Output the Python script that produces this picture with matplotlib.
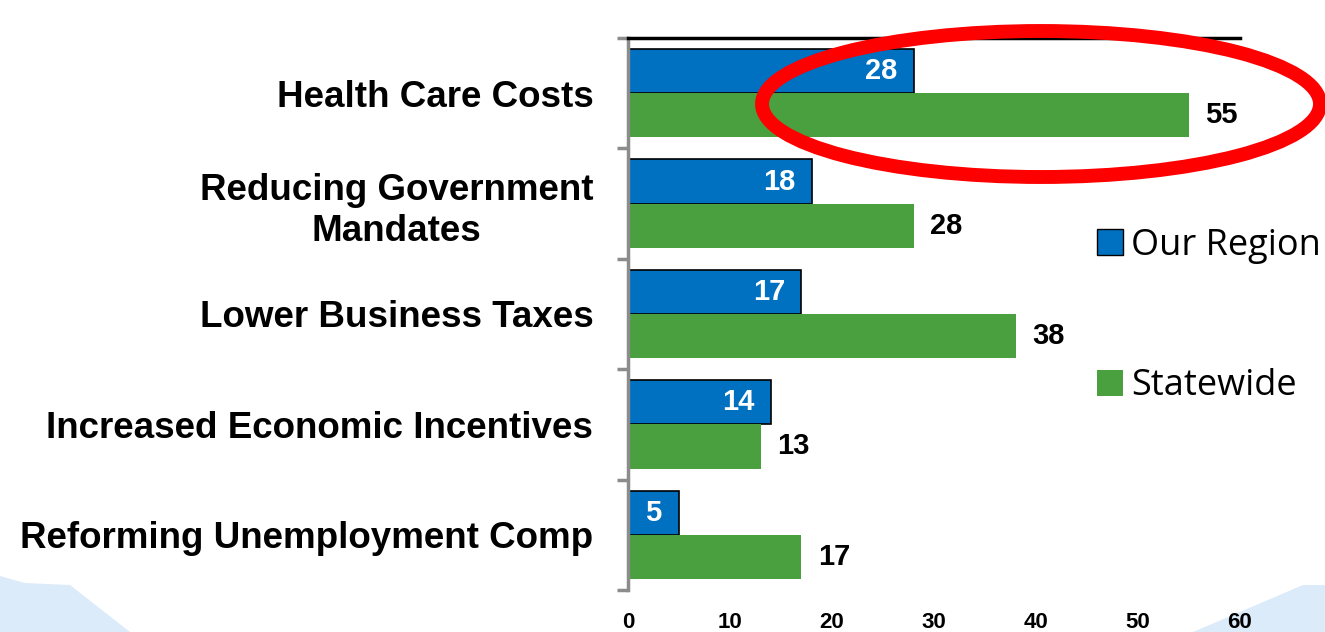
import numpy as np
import matplotlib.pyplot as plt
from matplotlib.patches import Ellipse, Polygon, Patch

# survey data: top legislative priorities
categories = ['Health Care Costs', 'Reducing Government\nMandates', 'Lower Business Taxes',
              'Increased Economic Incentives', 'Reforming Unemployment Comp']
our_region = [28, 18, 17, 14, 5]
statewide = [55, 28, 38, 13, 17]
xticks = [0, 10, 20, 30, 40, 50, 60]

blue = '#0070C0'
green = '#4A9F3E'

fig = plt.figure(figsize=(13.25, 6.32), dpi=100)

# light blue swooshes in the bottom corners
bg = fig.add_axes([0, 0, 1, 1], zorder=-5)
bg.set_xlim(0, 1325)
bg.set_ylim(632, 0)
bg.axis('off')
bg.add_patch(Polygon([[0, 576], [25, 583], [70, 585], [130, 632], [0, 632]], closed=True,
                     facecolor='#DCEBFA', edgecolor='none'))
bg.add_patch(Polygon([[1193, 632], [1303, 585], [1325, 585], [1325, 632]], closed=True,
                     facecolor='#DCEBFA', edgecolor='none'))

ax = fig.add_axes([628 / 1325, 1 - 590 / 632, 612 / 1325, 552 / 632])
y = np.arange(len(categories))
h = 0.4

b1 = ax.barh(y - h / 2, our_region, height=h, color=blue, edgecolor='black', linewidth=1.2)
b2 = ax.barh(y + h / 2, statewide, height=h, color=green, edgecolor='none')

for rect, v in zip(b1, our_region):
    yc = rect.get_y() + rect.get_height() / 2
    if v < 8:
        ax.text(v / 2, yc, str(v), ha='center', va='center',
                color='white', fontsize=21, fontweight='bold', family='Liberation Sans')
    else:
        ax.text(v - 1.6, yc, str(v), ha='right', va='center',
                color='white', fontsize=21, fontweight='bold', family='Liberation Sans')
for rect, v in zip(b2, statewide):
    ax.text(v + 1.6, rect.get_y() + rect.get_height() / 2, str(v), ha='left', va='center',
            color='black', fontsize=21, fontweight='bold', family='Liberation Sans')

ax.set_xlim(0, 60)
ax.set_ylim(len(categories) - 0.5, -0.5)
ax.set_xticks(xticks)
ax.set_xticklabels([str(t) for t in xticks], fontsize=16, fontweight='bold', family='Liberation Sans')
ax.tick_params(axis='x', length=0, pad=16)

ax.set_yticks(y)
ax.set_yticklabels(categories, fontsize=26.5, fontweight='bold', family='Liberation Sans',
                   multialignment='center', linespacing=1.25)
ax.set_yticks(np.arange(len(categories) + 1) - 0.5, minor=True)
ax.tick_params(axis='y', which='major', length=0, pad=25)
ax.tick_params(axis='y', which='minor', length=8, width=2.5, color='#8C8C8C')

ax.spines['right'].set_visible(False)
ax.spines['bottom'].set_visible(False)
ax.spines['left'].set_color('#8C8C8C')
ax.spines['left'].set_linewidth(2.5)
ax.spines['top'].set_color('black')
ax.spines['top'].set_linewidth(2.5)

handles = [Patch(facecolor=blue, edgecolor='black', linewidth=1),
           Patch(facecolor=green, edgecolor='none')]
fig.legend(handles, ['Our Region', 'Statewide'], loc='center left',
           bbox_to_anchor=(1097 / 1325, 1 - 316 / 632), frameon=False,
           borderaxespad=0, borderpad=0,
           prop={'family': 'Open Sans', 'size': 26}, labelspacing=2.9,
           handlelength=0.72, handleheight=0.72, handletextpad=0.23)

# highlight around the health care row
fig.add_artist(Ellipse((1041 / 1325, 1 - 104 / 632), 558 / 1325, 146 / 632,
                       transform=fig.transFigure, fill=False, edgecolor='#FF0000',
                       linewidth=10, zorder=10))

fig.savefig('out.png', dpi=100)
